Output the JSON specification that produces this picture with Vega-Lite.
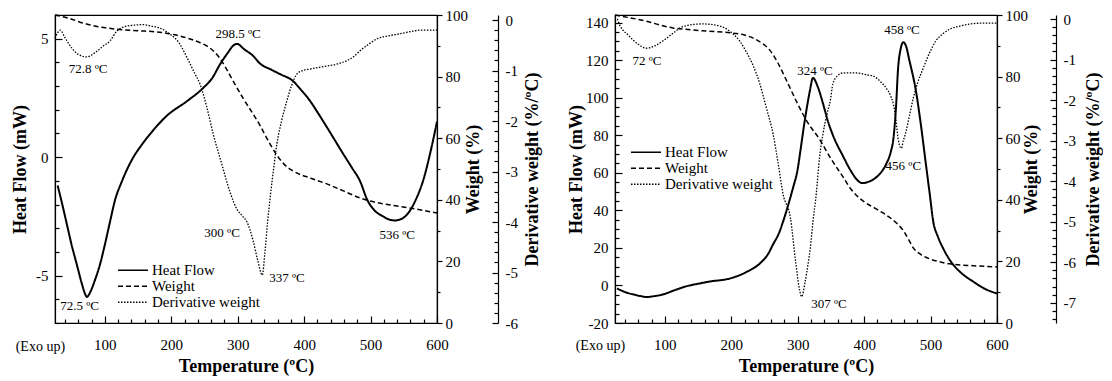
{
  "$schema": "https://vega.github.io/schema/vega-lite/v6.json",
  "background": "white",
  "padding": {"left": 10, "top": 7, "right": 0, "bottom": 0},
  "spacing": 24,
  "config": {
    "view": {"stroke": "black", "strokeWidth": 1.2},
    "axis": {
      "labelFont": "Liberation Serif", "labelFontSize": 15, "labelColor": "black",
      "titleFont": "Liberation Serif", "titleFontSize": 18, "titleFontWeight": "bold", "titleColor": "black",
      "domainColor": "black", "domainWidth": 1.2, "tickColor": "black", "tickWidth": 1.2,
      "grid": false, "labelOverlap": false, "labelFlush": false
    },
    "legend": {
      "symbolType": "stroke", "symbolSize": 900, "symbolStrokeWidth": 1.5, "symbolStrokeColor": "black",
      "labelFont": "Liberation Serif", "labelFontSize": 15, "labelColor": "black", "labelOffset": 3,
      "padding": 0, "title": null, "clipHeight": 14.5, "rowPadding": 0
    }
  },
  "datasets": {
    "hf1": [
      {"T":29,"v":-1.2,"s":"Heat Flow"},{"T":36,"v":-2.0,"s":"Heat Flow"},{"T":43,"v":-2.85,"s":"Heat Flow"},{"T":50,"v":-3.7,"s":"Heat Flow"},{"T":58,"v":-4.55,"s":"Heat Flow"},{"T":65,"v":-5.3,"s":"Heat Flow"},{"T":70,"v":-5.75,"s":"Heat Flow"},{"T":73,"v":-5.9,"s":"Heat Flow"},{"T":78,"v":-5.7,"s":"Heat Flow"},{"T":85,"v":-5.2,"s":"Heat Flow"},{"T":93,"v":-4.5,"s":"Heat Flow"},{"T":100,"v":-3.7,"s":"Heat Flow"},{"T":108,"v":-2.7,"s":"Heat Flow"},{"T":115,"v":-1.85,"s":"Heat Flow"},{"T":126,"v":-1.0,"s":"Heat Flow"},{"T":142,"v":-0.05,"s":"Heat Flow"},{"T":155,"v":0.5,"s":"Heat Flow"},{"T":168,"v":0.97,"s":"Heat Flow"},{"T":193,"v":1.74,"s":"Heat Flow"},{"T":224,"v":2.37,"s":"Heat Flow"},{"T":248,"v":2.92,"s":"Heat Flow"},{"T":262,"v":3.35,"s":"Heat Flow"},{"T":273,"v":3.9,"s":"Heat Flow"},{"T":285,"v":4.4,"s":"Heat Flow"},{"T":293,"v":4.7,"s":"Heat Flow"},{"T":299,"v":4.78,"s":"Heat Flow"},{"T":310,"v":4.55,"s":"Heat Flow"},{"T":323,"v":4.28,"s":"Heat Flow"},{"T":334,"v":3.94,"s":"Heat Flow"},{"T":350,"v":3.7,"s":"Heat Flow"},{"T":364,"v":3.5,"s":"Heat Flow"},{"T":383,"v":3.22,"s":"Heat Flow"},{"T":395,"v":2.85,"s":"Heat Flow"},{"T":409,"v":2.37,"s":"Heat Flow"},{"T":420,"v":1.9,"s":"Heat Flow"},{"T":435,"v":1.23,"s":"Heat Flow"},{"T":459,"v":0.13,"s":"Heat Flow"},{"T":472,"v":-0.45,"s":"Heat Flow"},{"T":484,"v":-1.0,"s":"Heat Flow"},{"T":495,"v":-1.8,"s":"Heat Flow"},{"T":505,"v":-2.22,"s":"Heat Flow"},{"T":519,"v":-2.5,"s":"Heat Flow"},{"T":530,"v":-2.65,"s":"Heat Flow"},{"T":537,"v":-2.67,"s":"Heat Flow"},{"T":547,"v":-2.6,"s":"Heat Flow"},{"T":555,"v":-2.42,"s":"Heat Flow"},{"T":567,"v":-1.86,"s":"Heat Flow"},{"T":579,"v":-1.0,"s":"Heat Flow"},{"T":590,"v":0.2,"s":"Heat Flow"},{"T":600,"v":1.5,"s":"Heat Flow"}
    ],
    "w1": [
      {"T":25,"v":100,"s":"Weight"},{"T":45,"v":99,"s":"Weight"},{"T":67,"v":97.4,"s":"Weight"},{"T":90,"v":96.2,"s":"Weight"},{"T":118,"v":95.4,"s":"Weight"},{"T":150,"v":94.9,"s":"Weight"},{"T":178,"v":94.5,"s":"Weight"},{"T":205,"v":93.6,"s":"Weight"},{"T":224,"v":92.5,"s":"Weight"},{"T":240,"v":91.3,"s":"Weight"},{"T":254,"v":89.9,"s":"Weight"},{"T":265,"v":88,"s":"Weight"},{"T":273,"v":86,"s":"Weight"},{"T":283,"v":82.5,"s":"Weight"},{"T":293,"v":78.6,"s":"Weight"},{"T":308,"v":73,"s":"Weight"},{"T":323,"v":67.9,"s":"Weight"},{"T":334,"v":64,"s":"Weight"},{"T":345,"v":59.5,"s":"Weight"},{"T":359,"v":54.5,"s":"Weight"},{"T":370,"v":51.5,"s":"Weight"},{"T":383,"v":49.4,"s":"Weight"},{"T":410,"v":47,"s":"Weight"},{"T":435,"v":45.1,"s":"Weight"},{"T":460,"v":42.8,"s":"Weight"},{"T":484,"v":40.6,"s":"Weight"},{"T":499,"v":39.6,"s":"Weight"},{"T":530,"v":38.3,"s":"Weight"},{"T":560,"v":37.3,"s":"Weight"},{"T":600,"v":35.7,"s":"Weight"}
    ],
    "d1": [
      {"T":25,"v":-0.36,"s":"Derivative weight"},{"T":29,"v":-0.25,"s":"Derivative weight"},{"T":33,"v":-0.2,"s":"Derivative weight"},{"T":40,"v":-0.35,"s":"Derivative weight"},{"T":50,"v":-0.55,"s":"Derivative weight"},{"T":60,"v":-0.68,"s":"Derivative weight"},{"T":73,"v":-0.73,"s":"Derivative weight"},{"T":85,"v":-0.65,"s":"Derivative weight"},{"T":97,"v":-0.52,"s":"Derivative weight"},{"T":108,"v":-0.41,"s":"Derivative weight"},{"T":118,"v":-0.22,"s":"Derivative weight"},{"T":130,"v":-0.13,"s":"Derivative weight"},{"T":145,"v":-0.1,"s":"Derivative weight"},{"T":158,"v":-0.09,"s":"Derivative weight"},{"T":170,"v":-0.12,"s":"Derivative weight"},{"T":183,"v":-0.16,"s":"Derivative weight"},{"T":198,"v":-0.28,"s":"Derivative weight"},{"T":210,"v":-0.42,"s":"Derivative weight"},{"T":224,"v":-0.75,"s":"Derivative weight"},{"T":235,"v":-1.05,"s":"Derivative weight"},{"T":243,"v":-1.26,"s":"Derivative weight"},{"T":253,"v":-1.7,"s":"Derivative weight"},{"T":263,"v":-2.25,"s":"Derivative weight"},{"T":276,"v":-2.85,"s":"Derivative weight"},{"T":289,"v":-3.43,"s":"Derivative weight"},{"T":299,"v":-3.75,"s":"Derivative weight"},{"T":307,"v":-3.88,"s":"Derivative weight"},{"T":314,"v":-4.0,"s":"Derivative weight"},{"T":323,"v":-4.36,"s":"Derivative weight"},{"T":330,"v":-4.75,"s":"Derivative weight"},{"T":337,"v":-5.05,"s":"Derivative weight"},{"T":341,"v":-4.6,"s":"Derivative weight"},{"T":345,"v":-4.0,"s":"Derivative weight"},{"T":349,"v":-3.5,"s":"Derivative weight"},{"T":354,"v":-2.95,"s":"Derivative weight"},{"T":359,"v":-2.45,"s":"Derivative weight"},{"T":366,"v":-2.0,"s":"Derivative weight"},{"T":374,"v":-1.6,"s":"Derivative weight"},{"T":381,"v":-1.3,"s":"Derivative weight"},{"T":389,"v":-1.07,"s":"Derivative weight"},{"T":398,"v":-1.0,"s":"Derivative weight"},{"T":409,"v":-0.97,"s":"Derivative weight"},{"T":435,"v":-0.91,"s":"Derivative weight"},{"T":450,"v":-0.87,"s":"Derivative weight"},{"T":465,"v":-0.8,"s":"Derivative weight"},{"T":475,"v":-0.72,"s":"Derivative weight"},{"T":484,"v":-0.61,"s":"Derivative weight"},{"T":497,"v":-0.48,"s":"Derivative weight"},{"T":510,"v":-0.37,"s":"Derivative weight"},{"T":528,"v":-0.31,"s":"Derivative weight"},{"T":545,"v":-0.27,"s":"Derivative weight"},{"T":560,"v":-0.23,"s":"Derivative weight"},{"T":575,"v":-0.2,"s":"Derivative weight"},{"T":600,"v":-0.2,"s":"Derivative weight"}
    ],
    "ann1": [
      {"T":300.6,"v":5.2,"label":"298.5 ºC"},{"T":74.7,"v":3.7,"label":"72.8 ºC"},{"T":62,"v":-6.3,"label":"72.5 ºC"},{"T":276.5,"v":-3.2,"label":"300 ºC"},{"T":374,"v":-5.1,"label":"337 ºC"},{"T":540,"v":-3.27,"label":"536 ºC"}
    ],
    "exo1": [{"T":3,"v":-8.0,"label":"(Exo up)"}],
    "hf2": [
      {"T":28,"v":-1.6,"s":"Heat Flow"},{"T":40,"v":-3.5,"s":"Heat Flow"},{"T":55,"v":-5.0,"s":"Heat Flow"},{"T":67,"v":-5.9,"s":"Heat Flow"},{"T":72,"v":-6.2,"s":"Heat Flow"},{"T":80,"v":-5.9,"s":"Heat Flow"},{"T":97,"v":-4.8,"s":"Heat Flow"},{"T":115,"v":-2.5,"s":"Heat Flow"},{"T":132,"v":-0.5,"s":"Heat Flow"},{"T":150,"v":0.9,"s":"Heat Flow"},{"T":168,"v":2.1,"s":"Heat Flow"},{"T":198,"v":3.7,"s":"Heat Flow"},{"T":222,"v":7.0,"s":"Heat Flow"},{"T":243,"v":11.7,"s":"Heat Flow"},{"T":255,"v":16.5,"s":"Heat Flow"},{"T":263,"v":21.9,"s":"Heat Flow"},{"T":272,"v":28,"s":"Heat Flow"},{"T":278,"v":34,"s":"Heat Flow"},{"T":285,"v":42,"s":"Heat Flow"},{"T":293,"v":52,"s":"Heat Flow"},{"T":300,"v":62,"s":"Heat Flow"},{"T":304,"v":71.5,"s":"Heat Flow"},{"T":309,"v":84,"s":"Heat Flow"},{"T":313,"v":93,"s":"Heat Flow"},{"T":318,"v":103,"s":"Heat Flow"},{"T":323,"v":110.5,"s":"Heat Flow"},{"T":330,"v":106,"s":"Heat Flow"},{"T":338,"v":97,"s":"Heat Flow"},{"T":345,"v":88,"s":"Heat Flow"},{"T":353,"v":80,"s":"Heat Flow"},{"T":368,"v":69,"s":"Heat Flow"},{"T":380,"v":61,"s":"Heat Flow"},{"T":390,"v":56,"s":"Heat Flow"},{"T":397,"v":54.5,"s":"Heat Flow"},{"T":405,"v":55,"s":"Heat Flow"},{"T":414,"v":56.5,"s":"Heat Flow"},{"T":425,"v":60,"s":"Heat Flow"},{"T":433,"v":64.5,"s":"Heat Flow"},{"T":440,"v":71,"s":"Heat Flow"},{"T":444,"v":78,"s":"Heat Flow"},{"T":448,"v":95,"s":"Heat Flow"},{"T":451,"v":115,"s":"Heat Flow"},{"T":455,"v":126,"s":"Heat Flow"},{"T":459,"v":129.5,"s":"Heat Flow"},{"T":463,"v":127.5,"s":"Heat Flow"},{"T":468,"v":120,"s":"Heat Flow"},{"T":478,"v":103.5,"s":"Heat Flow"},{"T":486,"v":84,"s":"Heat Flow"},{"T":493,"v":64.5,"s":"Heat Flow"},{"T":499,"v":48,"s":"Heat Flow"},{"T":504,"v":34.1,"s":"Heat Flow"},{"T":511,"v":26,"s":"Heat Flow"},{"T":519,"v":19.7,"s":"Heat Flow"},{"T":529,"v":13.5,"s":"Heat Flow"},{"T":539,"v":9.1,"s":"Heat Flow"},{"T":550,"v":5.5,"s":"Heat Flow"},{"T":564,"v":2.1,"s":"Heat Flow"},{"T":580,"v":-1.5,"s":"Heat Flow"},{"T":600,"v":-4.3,"s":"Heat Flow"}
    ],
    "w2": [
      {"T":25,"v":100,"s":"Weight"},{"T":45,"v":99.2,"s":"Weight"},{"T":72,"v":98,"s":"Weight"},{"T":92,"v":96.8,"s":"Weight"},{"T":112,"v":95.8,"s":"Weight"},{"T":140,"v":95.2,"s":"Weight"},{"T":162,"v":94.8,"s":"Weight"},{"T":203,"v":94.1,"s":"Weight"},{"T":220,"v":93.5,"s":"Weight"},{"T":233,"v":92.5,"s":"Weight"},{"T":245,"v":91,"s":"Weight"},{"T":258,"v":88.6,"s":"Weight"},{"T":270,"v":84.5,"s":"Weight"},{"T":283,"v":78.8,"s":"Weight"},{"T":298,"v":72,"s":"Weight"},{"T":313,"v":65.8,"s":"Weight"},{"T":334,"v":59.3,"s":"Weight"},{"T":349,"v":53.7,"s":"Weight"},{"T":368,"v":47.5,"s":"Weight"},{"T":380,"v":43.5,"s":"Weight"},{"T":398,"v":39.7,"s":"Weight"},{"T":420,"v":36.8,"s":"Weight"},{"T":439,"v":34.2,"s":"Weight"},{"T":450,"v":32.2,"s":"Weight"},{"T":459,"v":30,"s":"Weight"},{"T":466,"v":27.5,"s":"Weight"},{"T":474,"v":24.4,"s":"Weight"},{"T":485,"v":22.3,"s":"Weight"},{"T":499,"v":20.8,"s":"Weight"},{"T":515,"v":19.8,"s":"Weight"},{"T":529,"v":19.2,"s":"Weight"},{"T":564,"v":18.6,"s":"Weight"},{"T":600,"v":18.2,"s":"Weight"}
    ],
    "d2": [
      {"T":25,"v":-0.05,"s":"Derivative weight"},{"T":28,"v":0.0,"s":"Derivative weight"},{"T":32,"v":-0.15,"s":"Derivative weight"},{"T":45,"v":-0.4,"s":"Derivative weight"},{"T":60,"v":-0.62,"s":"Derivative weight"},{"T":72,"v":-0.72,"s":"Derivative weight"},{"T":85,"v":-0.66,"s":"Derivative weight"},{"T":97,"v":-0.54,"s":"Derivative weight"},{"T":110,"v":-0.38,"s":"Derivative weight"},{"T":123,"v":-0.22,"s":"Derivative weight"},{"T":140,"v":-0.14,"s":"Derivative weight"},{"T":157,"v":-0.12,"s":"Derivative weight"},{"T":177,"v":-0.15,"s":"Derivative weight"},{"T":190,"v":-0.22,"s":"Derivative weight"},{"T":203,"v":-0.37,"s":"Derivative weight"},{"T":213,"v":-0.55,"s":"Derivative weight"},{"T":222,"v":-0.79,"s":"Derivative weight"},{"T":233,"v":-1.15,"s":"Derivative weight"},{"T":243,"v":-1.6,"s":"Derivative weight"},{"T":253,"v":-2.2,"s":"Derivative weight"},{"T":263,"v":-2.84,"s":"Derivative weight"},{"T":270,"v":-3.5,"s":"Derivative weight"},{"T":278,"v":-4.32,"s":"Derivative weight"},{"T":289,"v":-4.9,"s":"Derivative weight"},{"T":297,"v":-6.0,"s":"Derivative weight"},{"T":303,"v":-6.7,"s":"Derivative weight"},{"T":306,"v":-6.85,"s":"Derivative weight"},{"T":311,"v":-6.5,"s":"Derivative weight"},{"T":316,"v":-6.0,"s":"Derivative weight"},{"T":319,"v":-5.65,"s":"Derivative weight"},{"T":323,"v":-5.0,"s":"Derivative weight"},{"T":328,"v":-4.3,"s":"Derivative weight"},{"T":333,"v":-3.4,"s":"Derivative weight"},{"T":338,"v":-2.84,"s":"Derivative weight"},{"T":344,"v":-2.35,"s":"Derivative weight"},{"T":349,"v":-2.02,"s":"Derivative weight"},{"T":353,"v":-1.6,"s":"Derivative weight"},{"T":360,"v":-1.4,"s":"Derivative weight"},{"T":368,"v":-1.33,"s":"Derivative weight"},{"T":388,"v":-1.33,"s":"Derivative weight"},{"T":405,"v":-1.38,"s":"Derivative weight"},{"T":414,"v":-1.41,"s":"Derivative weight"},{"T":425,"v":-1.55,"s":"Derivative weight"},{"T":433,"v":-1.7,"s":"Derivative weight"},{"T":440,"v":-1.9,"s":"Derivative weight"},{"T":444,"v":-2.1,"s":"Derivative weight"},{"T":448,"v":-2.5,"s":"Derivative weight"},{"T":451,"v":-2.94,"s":"Derivative weight"},{"T":456,"v":-3.19,"s":"Derivative weight"},{"T":459,"v":-3.0,"s":"Derivative weight"},{"T":462,"v":-2.84,"s":"Derivative weight"},{"T":468,"v":-2.4,"s":"Derivative weight"},{"T":474,"v":-1.95,"s":"Derivative weight"},{"T":480,"v":-1.6,"s":"Derivative weight"},{"T":489,"v":-1.21,"s":"Derivative weight"},{"T":498,"v":-0.85,"s":"Derivative weight"},{"T":508,"v":-0.54,"s":"Derivative weight"},{"T":518,"v":-0.37,"s":"Derivative weight"},{"T":529,"v":-0.25,"s":"Derivative weight"},{"T":545,"v":-0.17,"s":"Derivative weight"},{"T":560,"v":-0.12,"s":"Derivative weight"},{"T":580,"v":-0.1,"s":"Derivative weight"},{"T":600,"v":-0.1,"s":"Derivative weight"}
    ],
    "ann2": [
      {"T":73.2,"v":119.5,"label":"72 ºC"},{"T":326,"v":114,"label":"324 ºC"},{"T":347,"v":-10,"label":"307 ºC"},{"T":457,"v":136,"label":"458 ºC"},{"T":459,"v":63.5,"label":"456 ºC"}
    ],
    "exo2": [{"T":3,"v":-32.5,"label":"(Exo up)"}]
  },
  "hconcat": [
    {
      "width": 382, "height": 308,
      "layer": [
        {
          "data": {"name": "hf1"},
          "mark": {"type": "line", "color": "black", "strokeWidth": 2, "interpolate": "monotone"},
          "encoding": {
            "x": {"field": "T", "type": "quantitative", "scale": {"domain": [25, 600], "nice": false, "zero": false},
              "axis": {"title": "Temperature (ºC)", "values": [40,60,80,100,120,140,160,180,200,220,240,260,280,300,320,340,360,380,400,420,440,460,480,500,520,540,560,580,600],
                "labelExpr": "datum.value % 100 === 0 ? datum.label : ''", "labelOverlap": false,
                "tickSize": {"condition": {"test": "datum.value % 100 === 0", "value": -7}, "value": -4},
                "labelPadding": 21, "titleX": 191, "titleY": 43, "titleBaseline": "middle"}},
            "y": {"field": "v", "type": "quantitative", "scale": {"domain": [-7, 6], "nice": false, "zero": false},
              "axis": {"title": "Heat Flow (mW)", "orient": "left", "values": [-7,-6,-5,-4,-3,-2,-1,0,1,2,3,4,5,6],
                "labelExpr": "datum.value % 5 === 0 ? toString(datum.value) : ''", "labelOverlap": false,
                "tickSize": {"condition": {"test": "datum.value % 5 === 0", "value": -7}, "value": -4},
                "labelPadding": 14, "titleX": -35, "titleY": 154, "titleAngle": 270, "titleBaseline": "middle"}},
            "strokeDash": {"field": "s", "type": "nominal",
              "scale": {"domain": ["Heat Flow", "Weight", "Derivative weight"], "range": [[1, 0], [5, 3], [1.5, 1.5]]},
              "legend": {"orient": "none", "legendX": 62, "legendY": 248}}
          }
        },
        {
          "data": {"name": "w1"},
          "mark": {"type": "line", "color": "black", "strokeWidth": 1.5, "interpolate": "monotone"},
          "encoding": {
            "x": {"field": "T", "type": "quantitative", "axis": null},
            "y": {"field": "v", "type": "quantitative", "scale": {"domain": [0, 100], "nice": false},
              "axis": {"title": "Weight (%)", "orient": "right", "values": [0,10,20,30,40,50,60,70,80,90,100],
                "labelExpr": "datum.value % 20 === 0 ? datum.label : ''", "labelOverlap": false,
                "tickSize": {"condition": {"test": "datum.value % 20 === 0", "value": 5}, "value": 3},
                "labelPadding": 3, "titleX": 36, "titleY": 154, "titleAngle": 270, "titleBaseline": "middle"}},
            "strokeDash": {"field": "s", "type": "nominal"}
          }
        },
        {
          "data": {"name": "d1"},
          "mark": {"type": "line", "color": "black", "strokeWidth": 1.3, "interpolate": "monotone"},
          "encoding": {
            "x": {"field": "T", "type": "quantitative", "axis": null},
            "y": {"field": "v", "type": "quantitative", "scale": {"domain": [-6, 0.1], "nice": false, "zero": false},
              "axis": {"title": "Derivative weight (%/ºC)", "orient": "right", "offset": 61,
                "values": [-6,-5.8,-5.6,-5.4,-5.2,-5,-4.8,-4.6,-4.4,-4.2,-4,-3.8,-3.6,-3.4,-3.2,-3,-2.8,-2.6,-2.4,-2.2,-2,-1.8,-1.6,-1.4,-1.2,-1,-0.8,-0.6,-0.4,-0.2,0],
                "labelExpr": "abs(datum.value - round(datum.value)) < 0.01 ? toString(round(datum.value)) : ''", "labelOverlap": false,
                "tickSize": {"condition": {"test": "abs(datum.value - round(datum.value)) < 0.01", "value": -6}, "value": -4},
                "labelPadding": 13, "titleX": 34, "titleY": 154, "titleAngle": 270, "titleBaseline": "middle"}},
            "strokeDash": {"field": "s", "type": "nominal"}
          }
        },
        {
          "data": {"name": "ann1"},
          "mark": {"type": "text", "font": "Liberation Serif", "fontSize": 13, "color": "black"},
          "encoding": {
            "x": {"field": "T", "type": "quantitative", "axis": null},
            "y": {"field": "v", "type": "quantitative", "scale": {"domain": [-7, 6], "nice": false, "zero": false}, "axis": null},
            "text": {"field": "label"}
          }
        },
        {
          "data": {"name": "exo1"},
          "mark": {"type": "text", "font": "Liberation Serif", "fontSize": 14, "color": "black"},
          "encoding": {
            "x": {"field": "T", "type": "quantitative", "axis": null},
            "y": {"field": "v", "type": "quantitative", "scale": {"domain": [-7, 6], "nice": false, "zero": false}, "axis": null},
            "text": {"field": "label"}
          }
        }
      ],
      "resolve": {"scale": {"y": "independent"}, "axis": {"x": "independent"}}
    },
    {
      "width": 382, "height": 308,
      "layer": [
        {
          "data": {"name": "hf2"},
          "mark": {"type": "line", "color": "black", "strokeWidth": 2, "interpolate": "monotone"},
          "encoding": {
            "x": {"field": "T", "type": "quantitative", "scale": {"domain": [25, 600], "nice": false, "zero": false},
              "axis": {"title": "Temperature (ºC)", "values": [40,60,80,100,120,140,160,180,200,220,240,260,280,300,320,340,360,380,400,420,440,460,480,500,520,540,560,580,600],
                "labelExpr": "datum.value % 100 === 0 ? datum.label : ''", "labelOverlap": false,
                "tickSize": {"condition": {"test": "datum.value % 100 === 0", "value": -7}, "value": -4},
                "labelPadding": 21, "titleX": 191, "titleY": 43, "titleBaseline": "middle"}},
            "y": {"field": "v", "type": "quantitative", "scale": {"domain": [-20, 144], "nice": false, "zero": false},
              "axis": {"title": "Heat Flow (mW)", "orient": "left",
                "values": [-20,-15,-10,-5,0,5,10,15,20,25,30,35,40,45,50,55,60,65,70,75,80,85,90,95,100,105,110,115,120,125,130,135,140],
                "labelExpr": "datum.value % 20 === 0 ? toString(datum.value) : ''", "labelOverlap": false,
                "tickSize": {"condition": {"test": "datum.value % 20 === 0", "value": -7}, "value": -4},
                "labelPadding": 14, "titleX": -39, "titleY": 154, "titleAngle": 270, "titleBaseline": "middle"}},
            "strokeDash": {"field": "s", "type": "nominal",
              "scale": {"domain": ["Heat Flow", "Weight", "Derivative weight"], "range": [[1, 0], [5, 3], [1.5, 1.5]]},
              "legend": {"orient": "none", "legendX": 15, "legendY": 130}}
          }
        },
        {
          "data": {"name": "w2"},
          "mark": {"type": "line", "color": "black", "strokeWidth": 1.5, "interpolate": "monotone"},
          "encoding": {
            "x": {"field": "T", "type": "quantitative", "axis": null},
            "y": {"field": "v", "type": "quantitative", "scale": {"domain": [0, 100], "nice": false},
              "axis": {"title": "Weight (%)", "orient": "right", "values": [0,10,20,30,40,50,60,70,80,90,100],
                "labelExpr": "datum.value % 20 === 0 ? datum.label : ''", "labelOverlap": false,
                "tickSize": {"condition": {"test": "datum.value % 20 === 0", "value": 5}, "value": 3},
                "labelPadding": 3, "titleX": 34, "titleY": 154, "titleAngle": 270, "titleBaseline": "middle"}},
            "strokeDash": {"field": "s", "type": "nominal"}
          }
        },
        {
          "data": {"name": "d2"},
          "mark": {"type": "line", "color": "black", "strokeWidth": 1.3, "interpolate": "monotone"},
          "encoding": {
            "x": {"field": "T", "type": "quantitative", "axis": null},
            "y": {"field": "v", "type": "quantitative", "scale": {"domain": [-7.5, 0.1], "nice": false, "zero": false},
              "axis": {"title": "Derivative weight (%/ºC)", "orient": "right", "offset": 59,
                "values": [-7.4,-7.2,-7,-6.8,-6.6,-6.4,-6.2,-6,-5.8,-5.6,-5.4,-5.2,-5,-4.8,-4.6,-4.4,-4.2,-4,-3.8,-3.6,-3.4,-3.2,-3,-2.8,-2.6,-2.4,-2.2,-2,-1.8,-1.6,-1.4,-1.2,-1,-0.8,-0.6,-0.4,-0.2,0],
                "labelExpr": "abs(datum.value - round(datum.value)) < 0.01 ? toString(round(datum.value)) : ''", "labelOverlap": false,
                "tickSize": {"condition": {"test": "abs(datum.value - round(datum.value)) < 0.01", "value": -6}, "value": -4},
                "labelPadding": 13, "titleX": 37, "titleY": 154, "titleAngle": 270, "titleBaseline": "middle"}},
            "strokeDash": {"field": "s", "type": "nominal"}
          }
        },
        {
          "data": {"name": "ann2"},
          "mark": {"type": "text", "font": "Liberation Serif", "fontSize": 13, "color": "black"},
          "encoding": {
            "x": {"field": "T", "type": "quantitative", "axis": null},
            "y": {"field": "v", "type": "quantitative", "scale": {"domain": [-20, 144], "nice": false, "zero": false}, "axis": null},
            "text": {"field": "label"}
          }
        },
        {
          "data": {"name": "exo2"},
          "mark": {"type": "text", "font": "Liberation Serif", "fontSize": 14, "color": "black"},
          "encoding": {
            "x": {"field": "T", "type": "quantitative", "axis": null},
            "y": {"field": "v", "type": "quantitative", "scale": {"domain": [-20, 144], "nice": false, "zero": false}, "axis": null},
            "text": {"field": "label"}
          }
        }
      ],
      "resolve": {"scale": {"y": "independent"}, "axis": {"x": "independent"}}
    }
  ],
  "resolve": {"scale": {"strokeDash": "independent"}, "legend": {"strokeDash": "independent"}}
}
